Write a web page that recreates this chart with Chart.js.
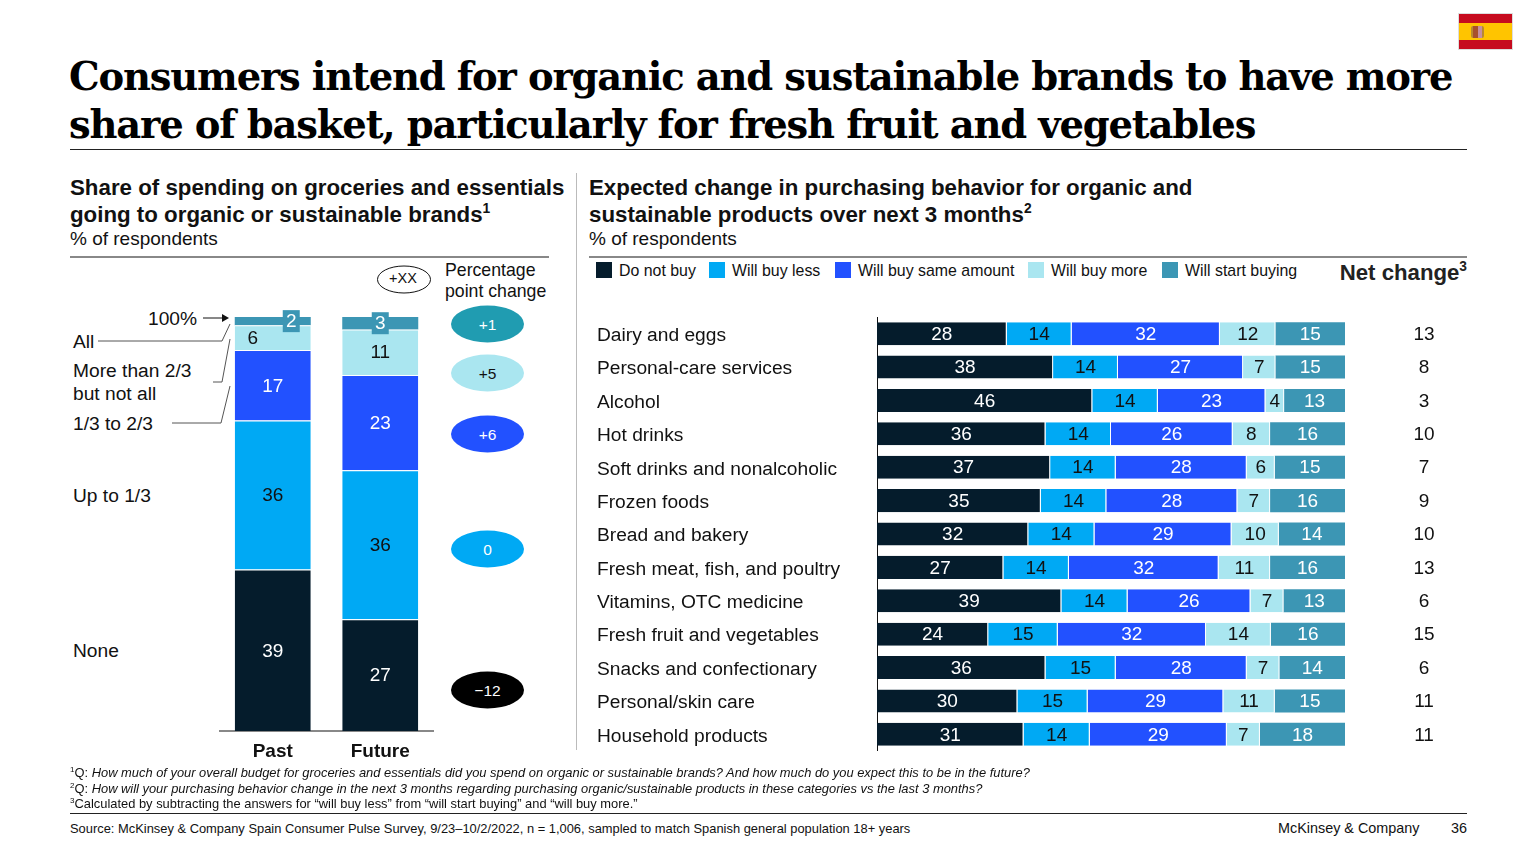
<!DOCTYPE html>
<html lang="en">
<head>
<meta charset="UTF-8">
<title>Organic and sustainable brands</title>
<script src="https://cdn.jsdelivr.net/npm/chart.js"></script>
<style>
    * { margin: 0; padding: 0; box-sizing: border-box; }
    body { width: 1536px; height: 864px; background: #fff; overflow: hidden; position: relative;
           font-family: "Liberation Sans", Arial, sans-serif; color: #111; }
    .t { position: absolute; white-space: nowrap; transform: translateY(-50%); line-height: 1.2; }
    .rule { position: absolute; height: 1px; background: #222; }
    h1 { position: absolute; left: 69px; top: 53px; font: bold 38.5px/48px "DejaVu Serif", serif; letter-spacing: -1.18px; white-space: nowrap; color: #000; }
    .head { font-size: 22.3px; font-weight: bold; }
    .sub { font-size: 19px; }
    .note { font-size: 12.9px; }
    .side { font-size: 19.2px; }
    sup { font-size: 62%; line-height: 0; }
    .oval { position: absolute; left: 451px; width: 73px; height: 37px; border-radius: 50%; transform: translateY(-50%);
            display: flex; align-items: center; justify-content: center; font-size: 15.5px; color: #fff; }
    .sw { position: absolute; top: 262px; width: 16px; height: 16px; }
    canvas { position: absolute; }
    svg { position: absolute; left: 0; top: 0; }
    .flag { position: absolute; left: 1458px; top: 13px; width: 55px; height: 37px; border: 1px solid #ddd;
            background: linear-gradient(#c60b1e 25%, #ffc400 25%, #ffc400 75%, #c60b1e 75%); }
    .flag i { position: absolute; left: 12px; top: 12px; width: 13px; height: 12px; border-radius: 2px;
              background: linear-gradient(90deg, #b9892f 15%, #a8502c 15%, #a8502c 50%, #c58fa0 50%, #c58fa0 85%, #b9892f 85%); }
</style>
</head>
<body>
<div class="flag"><i></i></div>
<h1>Consumers intend for organic and sustainable brands to have more<br>share of basket, particularly for fresh fruit and vegetables</h1>
<div class="rule" style="left:70px;top:149px;width:1397px"></div>

<div class="t head" style="left:70px;top:188px">Share of spending on groceries and essentials</div>
<div class="t head" style="left:70px;top:215px">going to organic or sustainable brands<sup>1</sup></div>
<div class="t sub" style="left:70px;top:239px">% of respondents</div>
<div class="rule" style="left:70px;top:256px;width:479px;background:#888;height:2px"></div>

<div class="t head" style="left:589px;top:188px">Expected change in purchasing behavior for organic and</div>
<div class="t head" style="left:589px;top:215px">sustainable products over next 3 months<sup>2</sup></div>
<div class="t sub" style="left:589px;top:239px">% of respondents</div>
<div class="rule" style="left:589px;top:256px;width:878px;background:#888;height:2px"></div>
<div class="rule" style="left:576px;top:173px;width:1px;height:577px;background:#bbb"></div>

<div id="legend"></div>
<div class="t" style="right:69px;top:273px;font-size:22.2px;font-weight:bold;color:#222">Net change<sup>3</sup></div>

<div class="t side" style="left:148px;top:319px">100%</div>
<div class="t side" style="left:73px;top:342px">All</div>
<div class="t side" style="left:73px;top:371px">More than 2/3</div>
<div class="t side" style="left:73px;top:394px">but not all</div>
<div class="t side" style="left:73px;top:424px">1/3 to 2/3</div>
<div class="t side" style="left:73px;top:496px">Up to 1/3</div>
<div class="t side" style="left:73px;top:651px">None</div>
<svg width="1536" height="864">
    <path d="M203 318H222" stroke="#111" fill="none"/>
    <path d="M222 314L229 318L222 322Z" fill="#111"/>
    <path d="M98 341H222L230 324M213 382H222L230 339M172 423H221L230 386" stroke="#555" fill="none"/>
</svg>

<svg width="1536" height="864"><ellipse cx="404" cy="279.5" rx="26.5" ry="13.5" fill="#fff" stroke="#111"/></svg>
<div class="t" style="left:389px;top:279px;font-size:14.5px">+XX</div>
<div class="t" style="left:445px;top:271px;font-size:17.7px">Percentage</div>
<div class="t" style="left:445px;top:292px;font-size:17.7px">point change</div>
<div id="ovals"></div>

<canvas id="shareChart" width="215" height="465" style="left:219px;top:300px"></canvas>
<canvas id="changeChart" width="853" height="434" style="left:597px;top:317px"></canvas>

<div class="t note" style="left:70px;top:773px"><sup>1</sup>Q: <i>How much of your overall budget for groceries and essentials did you spend on organic or sustainable brands? And how much do you expect this to be in the future?</i></div>
<div class="t note" style="left:70px;top:789px"><sup>2</sup>Q: <i>How will your purchasing behavior change in the next 3 months regarding purchasing organic/sustainable products in these categories vs the last 3 months?</i></div>
<div class="t note" style="left:70px;top:804px"><sup>3</sup>Calculated by subtracting the answers for “will buy less” from “will start buying” and “will buy more.”</div>
<div class="rule" style="left:70px;top:813px;width:1397px"></div>
<div class="t note" style="left:70px;top:829px">Source: McKinsey &amp; Company Spain Consumer Pulse Survey, 9/23–10/2/2022, n = 1,006, sampled to match Spanish general population 18+ years</div>
<div class="t" style="left:1278px;top:829px;font-size:14.4px">McKinsey &amp; Company</div>
<div class="t" style="right:69px;top:829px;font-size:14.4px">36</div>

<script>
    // Left chart: share of spending
    const periods = ['Past', 'Future'];
    const shareNone = [39, 27];
    const shareUpToThird = [36, 36];
    const shareThirdToTwoThirds = [17, 23];
    const shareMoreThanTwoThirds = [6, 11];
    const shareAll = [2, 3];
    const pointChange = ['+1', '+5', '+6', '0', '−12'];

    // Right chart: expected change
    const categories = ['Dairy and eggs', 'Personal-care services', 'Alcohol', 'Hot drinks', 'Soft drinks and nonalcoholic',
        'Frozen foods', 'Bread and bakery', 'Fresh meat, fish, and poultry', 'Vitamins, OTC medicine',
        'Fresh fruit and vegetables', 'Snacks and confectionary', 'Personal/skin care', 'Household products'];
    const doNotBuy = [28, 38, 46, 36, 37, 35, 32, 27, 39, 24, 36, 30, 31];
    const willBuyLess = [14, 14, 14, 14, 14, 14, 14, 14, 14, 15, 15, 15, 14];
    const willBuySame = [32, 27, 23, 26, 28, 28, 29, 32, 26, 32, 28, 29, 29];
    const willBuyMore = [12, 7, 4, 8, 6, 7, 10, 11, 7, 14, 7, 11, 7];
    const willStartBuying = [15, 15, 13, 16, 15, 16, 14, 16, 13, 16, 14, 15, 18];
    const netChange = [13, 8, 3, 10, 7, 9, 10, 13, 6, 15, 6, 11, 11];
    const seriesNames = ['Do not buy', 'Will buy less', 'Will buy same amount', 'Will buy more', 'Will start buying'];

    const NAVY = '#051c2c', SKY = '#00a9f4', BLUE = '#2251ff', PALE = '#aae6f0', TEAL = '#3c96b4';
    const seriesColors = [NAVY, SKY, BLUE, PALE, TEAL];
    const labelColors = ['#fff', '#111', '#fff', '#111', '#fff'];

    // legend
    const legendX = [596, 709, 835, 1028, 1162];
    document.getElementById('legend').innerHTML = seriesNames.map((name, i) =>
        `<div class="sw" style="left:${legendX[i]}px;background:${seriesColors[i]}"></div>` +
        `<div class="t" style="left:${legendX[i] + 23}px;top:271px;font-size:15.9px">${name}</div>`).join('');

    // percentage point ovals
    const ovalY = [324, 373, 434, 549, 690];
    const ovalBg = ['#209cb1', PALE, BLUE, SKY, '#000'];
    const ovalFg = ['#fff', '#111', '#fff', '#fff', '#fff'];
    document.getElementById('ovals').innerHTML = pointChange.map((v, i) =>
        `<div class="oval" style="top:${ovalY[i]}px;background:${ovalBg[i]};color:${ovalFg[i]}">${v}</div>`).join('');

    const FONT = '"Liberation Sans", Arial, sans-serif';

    // writes the raw value on each segment
    const segmentLabels = {
        id: 'segmentLabels',
        afterDatasetsDraw(chart, args, opts) {
            const ctx = chart.ctx;
            ctx.save();
            ctx.font = opts.font;
            ctx.textAlign = 'center';
            ctx.textBaseline = 'middle';
            chart.data.datasets.forEach((ds, d) => {
                chart.getDatasetMeta(d).data.forEach((bar, i) => {
                    const c = bar.getCenterPoint();
                    const shift = opts.shift ? opts.shift(d, i) : [0, 0];
                    if (opts.box && opts.box(d, i)) {
                        const b = opts.box(d, i);
                        ctx.fillStyle = ds.backgroundColor;
                        ctx.fillRect(c.x + shift[0] - b[0] / 2, c.y + shift[1] - b[1] / 2, b[0], b[1]);
                    }
                    ctx.fillStyle = labelColors[d];
                    ctx.fillText(ds.rawValues[i], c.x + shift[0], c.y + shift[1] + 1);
                });
            });
            ctx.restore();
        }
    };

    // net change column, lined up with the rows
    const netColumn = {
        id: 'netColumn',
        afterDraw(chart) {
            const ctx = chart.ctx, y = chart.scales.y;
            ctx.save();
            ctx.font = '19px ' + FONT;
            ctx.fillStyle = '#111';
            ctx.textAlign = 'center';
            ctx.textBaseline = 'middle';
            netChange.forEach((v, i) => ctx.fillText(v, 827, y.getPixelForValue(i) + 1));
            ctx.restore();
        }
    };

    new Chart(document.getElementById('shareChart'), {
        type: 'bar',
        plugins: [segmentLabels],
        data: {
            labels: periods,
            datasets: [shareNone, shareUpToThird, shareThirdToTwoThirds, shareMoreThanTwoThirds, shareAll].map((values, i) => ({
                label: ['None', 'Up to 1/3', '1/3 to 2/3', 'More than 2/3 but not all', 'All'][i],
                data: values,
                rawValues: values,
                backgroundColor: seriesColors[i],
                borderColor: '#fff',
                borderWidth: { top: i < 4 ? 1 : 0, bottom: 0, left: 0, right: 0 },
                borderSkipped: false,
                categoryPercentage: 1,
                barPercentage: 0.707
            }))
        },
        options: {
            responsive: false,
            animation: false,
            layout: { autoPadding: false, padding: { top: 17, left: 0, right: 0, bottom: 0 } },
            plugins: {
                legend: { display: false },
                tooltip: { enabled: false },
                segmentLabels: {
                    font: '19px ' + FONT,
                    shift: (d, i) => d === 4 ? (i === 0 ? [18.5, 0] : [0, 0]) : (d === 3 && i === 0 ? [-20, 0] : [0, 0]),
                    box: (d, i) => d === 4 ? [17, 22] : null
                }
            },
            scales: {
                x: {
                    stacked: true,
                    grid: { display: false, drawTicks: false },
                    border: { color: '#888', width: 2 },
                    ticks: { color: '#111', font: { family: FONT, size: 19, weight: 'bold' }, padding: 9, maxRotation: 0 },
                    afterFit(scale) { scale.height = 34; }
                },
                y: { stacked: true, display: false, min: 0, max: 100 }
            }
        }
    });

    // labelled values are rounded, so each row is scaled to its own total to make the bars end together
    const rowSeries = [doNotBuy, willBuyLess, willBuySame, willBuyMore, willStartBuying];
    const rowTotal = categories.map((c, i) => rowSeries.reduce((sum, s) => sum + s[i], 0));

    new Chart(document.getElementById('changeChart'), {
        type: 'bar',
        plugins: [segmentLabels, netColumn],
        data: {
            labels: categories,
            datasets: rowSeries.map((values, i) => ({
                label: seriesNames[i],
                data: values.map((v, r) => v / rowTotal[r] * 100),
                rawValues: values,
                backgroundColor: seriesColors[i],
                borderColor: '#fff',
                borderWidth: { top: 0, bottom: 0, left: 0, right: i < 4 ? 1 : 0 },
                borderSkipped: false,
                categoryPercentage: 1,
                barPercentage: 0.69
            }))
        },
        options: {
            indexAxis: 'y',
            responsive: false,
            animation: false,
            layout: { autoPadding: false, padding: { top: 0, left: 0, right: 105, bottom: 0 } },
            plugins: {
                legend: { display: false },
                tooltip: { enabled: false },
                segmentLabels: { font: '19px ' + FONT }
            },
            scales: {
                x: { stacked: true, display: false, min: 0, max: 100 },
                y: {
                    stacked: true,
                    grid: { display: false, drawTicks: false },
                    border: { color: '#111', width: 1 },
                    ticks: {
                        color: '#111', font: { family: FONT, size: 19.2 }, crossAlign: 'far', padding: 0, autoSkip: false, labelOffset: 2
                    },
                    afterFit(scale) {
                        // drop the half-label margin so the rows fill the full height
                        scale.width = 280;
                        scale.paddingTop = 0;
                        scale.paddingBottom = 0;
                    }
                }
            }
        }
    });
</script>
</body>
</html>
